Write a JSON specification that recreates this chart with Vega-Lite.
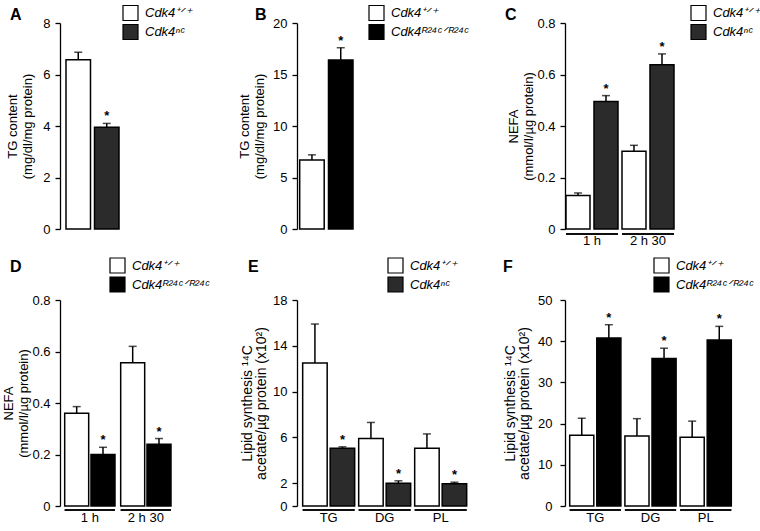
{
 "$schema": "https://vega.github.io/schema/vega-lite/v6.json",
 "padding": {"left": 2, "top": 4, "right": 0, "bottom": 0},
 "background": "white",
 "config": {
  "view": {"stroke": null},
  "font": "Liberation Sans",
  "axis": {"domainColor": "black", "domainWidth": 1.3, "tickColor": "black", "tickWidth": 1.3, "tickSize": 5, "labelColor": "black", "labelFontSize": 13, "labelPadding": 5, "titleColor": "black", "titleFontSize": 13, "titleFontWeight": "normal", "grid": false, "titleLineHeight": 15},
  "legend": {"symbolType": "square", "symbolSize": 225, "symbolStrokeColor": "black", "symbolStrokeWidth": 1.2, "labelFontStyle": "italic", "labelFontSize": 13, "labelColor": "black", "rowPadding": -3, "labelOffset": 6, "padding": 0},
  "title": {"fontSize": 16, "fontWeight": "bold", "anchor": "start", "frame": "group", "color": "black"}
 },
 "spacing": 10,
 "resolve": {"scale": {"color": "independent", "xOffset": "independent"}, "legend": {"color": "independent"}},
 "vconcat": [
  {
   "spacing": 172,
   "bounds": "flush",
   "resolve": {"scale": {"color": "independent", "xOffset": "independent"}, "legend": {"color": "independent"}},
   "hconcat": [
    {
     "width": 65, "height": 206,
     "title": {"text": "A", "dx": -50, "offset": -18},
     "data": {"values": [
      {"genotype": "Cdk4⁺ᐟ⁺", "value": 6.57, "upper": 6.86, "sig": ""},
      {"genotype": "Cdk4ⁿᶜ", "value": 3.95, "upper": 4.1, "sig": "*"}
     ]},
     "encoding": {"x": {"field": "genotype", "type": "nominal", "sort": null, "axis": null, "scale": {"paddingInner": 0.1404, "paddingOuter": 0.2105, "align": 0.5}}},
     "layer": [
      {"mark": {"type": "bar", "stroke": "black", "strokeWidth": 1.5},
       "encoding": {
        "y": {"field": "value", "type": "quantitative", "scale": {"domain": [0, 8], "nice": false}, "axis": {"values": [0, 2, 4, 6, 8], "title": ["TG content", "(mg/dl/mg protein)"], "titlePadding": 8}},
        "color": {"field": "genotype", "type": "nominal", "sort": null, "scale": {"range": ["white", "#2b2b2b"]}, "legend": {"orient": "none", "legendX": 62, "legendY": -18.5, "title": null}}}},
      {"mark": {"type": "rule", "strokeWidth": 1.5, "color": "black"}, "encoding": {"y": {"field": "upper", "type": "quantitative"}, "y2": {"field": "value"}}},
      {"mark": {"type": "tick", "orient": "horizontal", "size": 8, "thickness": 1.5, "color": "black"}, "encoding": {"y": {"field": "upper", "type": "quantitative"}}},
      {"mark": {"type": "text", "baseline": "bottom", "dy": 0, "fontSize": 13, "fontWeight": "bold"}, "encoding": {"y": {"field": "upper", "type": "quantitative"}, "text": {"field": "sig"}}}
     ]
    },
    {
     "width": 96, "height": 206,
     "title": {"text": "B", "dx": -42, "offset": -18},
     "data": {"values": [
      {"genotype": "Cdk4⁺ᐟ⁺", "value": 6.7, "upper": 7.2, "sig": ""},
      {"genotype": "Cdk4ᴿ²⁴ᶜᐟᴿ²⁴ᶜ", "value": 16.4, "upper": 17.6, "sig": "*"}
     ]},
     "encoding": {"x": {"field": "genotype", "type": "nominal", "sort": null, "axis": null, "scale": {"paddingInner": 0.149, "paddingOuter": 0.741, "align": 0.063}}},
     "layer": [
      {"mark": {"type": "bar", "stroke": "black", "strokeWidth": 1.5},
       "encoding": {
        "y": {"field": "value", "type": "quantitative", "scale": {"domain": [0, 20], "nice": false}, "axis": {"values": [0, 5, 10, 15, 20], "title": ["TG content", "(mg/dl/mg protein)"], "titlePadding": 6}},
        "color": {"field": "genotype", "type": "nominal", "sort": null, "scale": {"range": ["white", "black"]}, "legend": {"orient": "none", "legendX": 71, "legendY": -18.5, "title": null}}}},
      {"mark": {"type": "rule", "strokeWidth": 1.5, "color": "black"}, "encoding": {"y": {"field": "upper", "type": "quantitative"}, "y2": {"field": "value"}}},
      {"mark": {"type": "tick", "orient": "horizontal", "size": 8, "thickness": 1.5, "color": "black"}, "encoding": {"y": {"field": "upper", "type": "quantitative"}}},
      {"mark": {"type": "text", "baseline": "bottom", "dy": 0, "fontSize": 13, "fontWeight": "bold"}, "encoding": {"y": {"field": "upper", "type": "quantitative"}, "text": {"field": "sig"}}}
     ]
    },
    {
     "width": 111, "height": 206,
     "title": {"text": "C", "dx": -60, "offset": -18},
     "data": {"values": [
      {"group": "1 h", "genotype": "Cdk4⁺ᐟ⁺", "value": 0.13, "upper": 0.14, "sig": ""},
      {"group": "1 h", "genotype": "Cdk4ⁿᶜ", "value": 0.495, "upper": 0.518, "sig": "*"},
      {"group": "2 h 30", "genotype": "Cdk4⁺ᐟ⁺", "value": 0.302, "upper": 0.325, "sig": ""},
      {"group": "2 h 30", "genotype": "Cdk4ⁿᶜ", "value": 0.638, "upper": 0.68, "sig": "*"}
     ]},
     "encoding": {"x": {"field": "group", "type": "nominal", "sort": null, "scale": {"paddingInner": 0.0714, "paddingOuter": 0.0268, "align": 0.333}, "axis": {"title": null, "domain": false, "ticks": false, "labelAngle": 0, "labelPadding": 5}}},
     "layer": [
      {"mark": {"type": "bar", "stroke": "black", "strokeWidth": 1.3, "fill": "black", "yOffset": 5, "y2Offset": 5}, "encoding": {"y": {"datum": 0, "type": "quantitative"}, "y2": {"datum": 0}}},
      {"mark": {"type": "bar", "stroke": "black", "strokeWidth": 1.5},
       "encoding": {
        "xOffset": {"field": "genotype", "type": "nominal", "sort": null, "scale": {"paddingInner": 0.1429, "paddingOuter": 0}},
        "y": {"field": "value", "type": "quantitative", "scale": {"domain": [0, 0.8], "nice": false}, "axis": {"values": [0, 0.2, 0.4, 0.6, 0.8], "labelExpr": "datum.value == 0 ? '0' : format(datum.value, '.1f')", "title": ["NEFA", "(mmol/l/µg protein)"], "titlePadding": 1}},
        "color": {"field": "genotype", "type": "nominal", "sort": null, "scale": {"range": ["white", "#2b2b2b"]}, "legend": {"orient": "none", "legendX": 125, "legendY": -18.5, "title": null}}}},
      {"mark": {"type": "rule", "strokeWidth": 1.5, "color": "black"}, "encoding": {"xOffset": {"field": "genotype", "type": "nominal", "sort": null}, "y": {"field": "upper", "type": "quantitative"}, "y2": {"field": "value"}}},
      {"mark": {"type": "tick", "orient": "horizontal", "size": 8, "thickness": 1.5, "color": "black"}, "encoding": {"xOffset": {"field": "genotype", "type": "nominal", "sort": null}, "y": {"field": "upper", "type": "quantitative"}}},
      {"mark": {"type": "text", "baseline": "bottom", "dy": 0, "fontSize": 13, "fontWeight": "bold"}, "encoding": {"xOffset": {"field": "genotype", "type": "nominal", "sort": null}, "y": {"field": "upper", "type": "quantitative"}, "text": {"field": "sig"}}}
     ]
    }
   ]
  },
  {
   "spacing": 96,
   "bounds": "flush",
   "resolve": {"scale": {"color": "independent", "xOffset": "independent"}, "legend": {"color": "independent"}},
   "hconcat": [
    {
     "width": 141, "height": 206,
     "title": {"text": "D", "dx": -50, "offset": -18},
     "data": {"values": [
      {"group": "1 h", "genotype": "Cdk4⁺ᐟ⁺", "value": 0.36, "upper": 0.386, "sig": ""},
      {"group": "1 h", "genotype": "Cdk4ᴿ²⁴ᶜᐟᴿ²⁴ᶜ", "value": 0.2, "upper": 0.228, "sig": "*"},
      {"group": "2 h 30", "genotype": "Cdk4⁺ᐟ⁺", "value": 0.556, "upper": 0.62, "sig": ""},
      {"group": "2 h 30", "genotype": "Cdk4ᴿ²⁴ᶜᐟᴿ²⁴ᶜ", "value": 0.24, "upper": 0.262, "sig": "*"}
     ]},
     "encoding": {"x": {"field": "group", "type": "nominal", "sort": null, "scale": {"paddingInner": 0.1018, "paddingOuter": 0.3098, "align": 0.135}, "axis": {"title": null, "domain": false, "ticks": false, "labelAngle": 0, "labelPadding": 5}}},
     "layer": [
      {"mark": {"type": "bar", "stroke": "black", "strokeWidth": 1.3, "fill": "black", "yOffset": 4, "y2Offset": 4}, "encoding": {"y": {"datum": 0, "type": "quantitative"}, "y2": {"datum": 0}}},
      {"mark": {"type": "bar", "stroke": "black", "strokeWidth": 1.5},
       "encoding": {
        "xOffset": {"field": "genotype", "type": "nominal", "sort": null, "scale": {"paddingInner": 0.0875, "paddingOuter": 0}},
        "y": {"field": "value", "type": "quantitative", "scale": {"domain": [0, 0.8], "nice": false}, "axis": {"values": [0, 0.2, 0.4, 0.6, 0.8], "labelExpr": "datum.value == 0 ? '0' : format(datum.value, '.1f')", "title": ["NEFA", "(mmol/l/µg protein)"], "titlePadding": 1}},
        "color": {"field": "genotype", "type": "nominal", "sort": null, "scale": {"range": ["white", "black"]}, "legend": {"orient": "none", "legendX": 49, "legendY": -43, "title": null}}}},
      {"mark": {"type": "rule", "strokeWidth": 1.5, "color": "black"}, "encoding": {"xOffset": {"field": "genotype", "type": "nominal", "sort": null}, "y": {"field": "upper", "type": "quantitative"}, "y2": {"field": "value"}}},
      {"mark": {"type": "tick", "orient": "horizontal", "size": 8, "thickness": 1.5, "color": "black"}, "encoding": {"xOffset": {"field": "genotype", "type": "nominal", "sort": null}, "y": {"field": "upper", "type": "quantitative"}}},
      {"mark": {"type": "text", "baseline": "bottom", "dy": 0, "fontSize": 13, "fontWeight": "bold"}, "encoding": {"xOffset": {"field": "genotype", "type": "nominal", "sort": null}, "y": {"field": "upper", "type": "quantitative"}, "text": {"field": "sig"}}}
     ]
    },
    {
     "width": 172, "height": 206,
     "title": {"text": "E", "dx": -49, "offset": -18},
     "data": {"values": [
      {"group": "TG", "genotype": "Cdk4⁺ᐟ⁺", "value": 12.5, "upper": 15.9, "sig": ""},
      {"group": "TG", "genotype": "Cdk4ⁿᶜ", "value": 5.05, "upper": 5.17, "sig": "*"},
      {"group": "DG", "genotype": "Cdk4⁺ᐟ⁺", "value": 5.9, "upper": 7.3, "sig": ""},
      {"group": "DG", "genotype": "Cdk4ⁿᶜ", "value": 1.98, "upper": 2.2, "sig": "*"},
      {"group": "PL", "genotype": "Cdk4⁺ᐟ⁺", "value": 5.05, "upper": 6.3, "sig": ""},
      {"group": "PL", "genotype": "Cdk4ⁿᶜ", "value": 1.95, "upper": 2.08, "sig": "*"}
     ]},
     "encoding": {"x": {"field": "group", "type": "nominal", "sort": null, "scale": {"paddingInner": 0.0714, "paddingOuter": 0.0714, "align": 0.71}, "axis": {"title": null, "domain": false, "ticks": false, "labelAngle": 0, "labelPadding": 5}}},
     "layer": [
      {"mark": {"type": "bar", "stroke": "black", "strokeWidth": 1.3, "fill": "black", "yOffset": 4, "y2Offset": 4}, "encoding": {"y": {"datum": 0, "type": "quantitative"}, "y2": {"datum": 0}}},
      {"mark": {"type": "bar", "stroke": "black", "strokeWidth": 1.5},
       "encoding": {
        "xOffset": {"field": "genotype", "type": "nominal", "sort": null, "scale": {"paddingInner": 0.109, "paddingOuter": 0}},
        "y": {"field": "value", "type": "quantitative", "scale": {"domain": [0, 18], "nice": false}, "axis": {"values": [0, 2, 6, 10, 14, 18], "title": ["Lipid synthesis ¹⁴C", "acetate/µg protein (x10²)"], "titlePadding": 4, "titleFontSize": 14, "titleLineHeight": 14}},
        "color": {"field": "genotype", "type": "nominal", "sort": null, "scale": {"range": ["white", "#2b2b2b"]}, "legend": {"orient": "none", "legendX": 90, "legendY": -43, "title": null}}}},
      {"mark": {"type": "rule", "strokeWidth": 1.5, "color": "black"}, "encoding": {"xOffset": {"field": "genotype", "type": "nominal", "sort": null}, "y": {"field": "upper", "type": "quantitative"}, "y2": {"field": "value"}}},
      {"mark": {"type": "tick", "orient": "horizontal", "size": 8, "thickness": 1.5, "color": "black"}, "encoding": {"xOffset": {"field": "genotype", "type": "nominal", "sort": null}, "y": {"field": "upper", "type": "quantitative"}}},
      {"mark": {"type": "text", "baseline": "bottom", "dy": 0, "fontSize": 13, "fontWeight": "bold"}, "encoding": {"xOffset": {"field": "genotype", "type": "nominal", "sort": null}, "y": {"field": "upper", "type": "quantitative"}, "text": {"field": "sig"}}}
     ]
    },
    {
     "width": 170, "height": 206,
     "title": {"text": "F", "dx": -62, "offset": -18},
     "data": {"values": [
      {"group": "TG", "genotype": "Cdk4⁺ᐟ⁺", "value": 17.2, "upper": 21.3, "sig": ""},
      {"group": "TG", "genotype": "Cdk4ᴿ²⁴ᶜᐟᴿ²⁴ᶜ", "value": 40.8, "upper": 44.0, "sig": "*"},
      {"group": "DG", "genotype": "Cdk4⁺ᐟ⁺", "value": 17.0, "upper": 21.2, "sig": ""},
      {"group": "DG", "genotype": "Cdk4ᴿ²⁴ᶜᐟᴿ²⁴ᶜ", "value": 35.8, "upper": 38.3, "sig": "*"},
      {"group": "PL", "genotype": "Cdk4⁺ᐟ⁺", "value": 16.7, "upper": 20.6, "sig": ""},
      {"group": "PL", "genotype": "Cdk4ᴿ²⁴ᶜᐟᴿ²⁴ᶜ", "value": 40.3, "upper": 43.6, "sig": "*"}
     ]},
     "encoding": {"x": {"field": "group", "type": "nominal", "sort": null, "scale": {"paddingInner": 0.0725, "paddingOuter": 0.076, "align": 0.56}, "axis": {"title": null, "domain": false, "ticks": false, "labelAngle": 0, "labelPadding": 5}}},
     "layer": [
      {"mark": {"type": "bar", "stroke": "black", "strokeWidth": 1.3, "fill": "black", "yOffset": 4, "y2Offset": 4}, "encoding": {"y": {"datum": 0, "type": "quantitative"}, "y2": {"datum": 0}}},
      {"mark": {"type": "bar", "stroke": "black", "strokeWidth": 1.5},
       "encoding": {
        "xOffset": {"field": "genotype", "type": "nominal", "sort": null, "scale": {"paddingInner": 0.11, "paddingOuter": 0}},
        "y": {"field": "value", "type": "quantitative", "scale": {"domain": [0, 50], "nice": false}, "axis": {"values": [0, 10, 20, 30, 40, 50], "labelPadding": 8, "title": ["Lipid synthesis ¹⁴C", "acetate/µg protein (x10²)"], "titlePadding": 6, "titleFontSize": 14, "titleLineHeight": 14}},
        "color": {"field": "genotype", "type": "nominal", "sort": null, "scale": {"range": ["white", "black"]}, "legend": {"orient": "none", "legendX": 88, "legendY": -43, "title": null}}}},
      {"mark": {"type": "rule", "strokeWidth": 1.5, "color": "black"}, "encoding": {"xOffset": {"field": "genotype", "type": "nominal", "sort": null}, "y": {"field": "upper", "type": "quantitative"}, "y2": {"field": "value"}}},
      {"mark": {"type": "tick", "orient": "horizontal", "size": 8, "thickness": 1.5, "color": "black"}, "encoding": {"xOffset": {"field": "genotype", "type": "nominal", "sort": null}, "y": {"field": "upper", "type": "quantitative"}}},
      {"mark": {"type": "text", "baseline": "bottom", "dy": 0, "fontSize": 13, "fontWeight": "bold"}, "encoding": {"xOffset": {"field": "genotype", "type": "nominal", "sort": null}, "y": {"field": "upper", "type": "quantitative"}, "text": {"field": "sig"}}}
     ]
    }
   ]
  }
 ]
}
